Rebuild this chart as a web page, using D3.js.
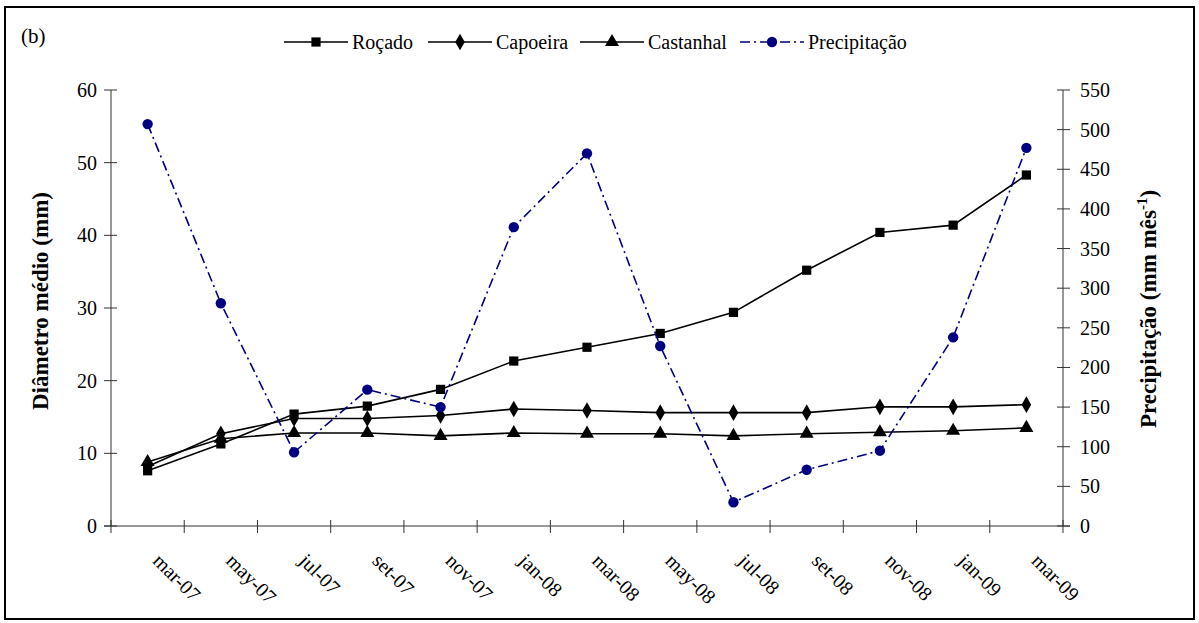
<!DOCTYPE html>
<html>
<head>
<meta charset="utf-8">
<script src="https://cdn.jsdelivr.net/npm/d3@7"></script>
<style>
  body { margin: 0; background: #fff; }
</style>
</head>
<body>
<div id="chart"></div>
<script>
// Data
var months = ["mar-07", "may-07", "jul-07", "set-07", "nov-07", "jan-08", "mar-08",
              "may-08", "jul-08", "set-08", "nov-08", "jan-09", "mar-09"];
var rocado    = [7.6, 11.3, 15.4, 16.5, 18.8, 22.7, 24.6, 26.5, 29.4, 35.2, 40.4, 41.4, 48.3];
var capoeira  = [8.2, 12.7, 14.8, 14.8, 15.2, 16.1, 15.9, 15.6, 15.6, 15.6, 16.4, 16.4, 16.7];
var castanhal = [8.8, 12.0, 12.8, 12.8, 12.4, 12.8, 12.7, 12.7, 12.4, 12.7, 12.9, 13.1, 13.5];
var precip    = [507, 281, 93, 172, 150, 377, 470, 227, 30, 71, 95, 238, 477];
var leftTicks = [0, 10, 20, 30, 40, 50, 60];
var rightTicks = [0, 50, 100, 150, 200, 250, 300, 350, 400, 450, 500, 550];

var W = 1199, H = 623;
var plot = {left: 111, right: 1063, top: 90, bottom: 526};
var serif = "'Liberation Serif', 'Times New Roman', Times, serif";

var svg = d3.select("#chart").append("svg")
    .attr("width", W)
    .attr("height", H)
    .style("font-family", serif);

// outer frame
svg.append("rect")
    .attr("x", 5).attr("y", 7)
    .attr("width", 1189).attr("height", 612)
    .attr("fill", "none")
    .attr("stroke", "#000")
    .attr("stroke-width", 2);

svg.append("text")
    .attr("x", 21).attr("y", 43)
    .style("font-size", "21px")
    .text("(b)");

var x = d3.scaleBand().domain(months).range([plot.left, plot.right]);
var yL = d3.scaleLinear().domain([0, 60]).range([plot.bottom, plot.top]);
var yR = d3.scaleLinear().domain([0, 550]).range([plot.bottom, plot.top]);
var cx = d => x(d) + x.bandwidth() / 2;

var axisColor = "#333";

// left axis
var gL = svg.append("g");
gL.append("line")
    .attr("x1", plot.left).attr("x2", plot.left)
    .attr("y1", plot.top).attr("y2", plot.bottom)
    .attr("stroke", axisColor);
gL.selectAll(".t").data(leftTicks).enter().append("line")
    .attr("x1", plot.left - 7).attr("x2", plot.left + 6)
    .attr("y1", d => yL(d)).attr("y2", d => yL(d))
    .attr("stroke", axisColor);
gL.selectAll("text").data(leftTicks).enter().append("text")
    .attr("x", plot.left - 14)
    .attr("y", d => yL(d))
    .attr("dy", "0.35em")
    .attr("text-anchor", "end")
    .style("font-size", "20px")
    .text(d => d);

// right axis
var gR = svg.append("g");
gR.append("line")
    .attr("x1", plot.right).attr("x2", plot.right)
    .attr("y1", plot.top).attr("y2", plot.bottom)
    .attr("stroke", axisColor);
gR.selectAll(".t").data(rightTicks).enter().append("line")
    .attr("x1", plot.right - 6).attr("x2", plot.right + 7)
    .attr("y1", d => yR(d)).attr("y2", d => yR(d))
    .attr("stroke", axisColor);
gR.selectAll("text").data(rightTicks).enter().append("text")
    .attr("x", plot.right + 17)
    .attr("y", d => yR(d))
    .attr("dy", "0.35em")
    .attr("text-anchor", "start")
    .style("font-size", "20px")
    .text(d => d);

// bottom axis
var gB = svg.append("g");
gB.append("line")
    .attr("x1", plot.left - 7).attr("x2", plot.right + 7)
    .attr("y1", plot.bottom).attr("y2", plot.bottom)
    .attr("stroke", axisColor);
var edges = months.map(d => x(d)).concat([plot.right]);
gB.selectAll(".t").data(edges).enter().append("line")
    .attr("x1", d => d).attr("x2", d => d)
    .attr("y1", plot.bottom - 6).attr("y2", plot.bottom + 7)
    .attr("stroke", axisColor);
gB.selectAll("text").data(months).enter().append("text")
    .attr("transform", d => "translate(" + (cx(d) + 9) + "," + (plot.bottom + 31) + ") rotate(45)")
    .attr("dy", "0.35em")
    .attr("text-anchor", "start")
    .style("font-size", "20px")
    .text(d => d);

// axis titles
svg.append("text")
    .attr("transform", "translate(48,301) rotate(-90)")
    .attr("text-anchor", "middle")
    .style("font-size", "23px")
    .style("font-weight", "bold")
    .text("Diâmetro médio (mm)");

var tR = svg.append("text")
    .attr("transform", "translate(1156,309) rotate(-90)")
    .attr("text-anchor", "middle")
    .style("font-size", "23px")
    .style("font-weight", "bold");
tR.append("tspan").text("Precipitação (mm mês");
tR.append("tspan").attr("dy", "-9").style("font-size", "15px").text("-1");
tR.append("tspan").attr("dy", "9").text(")");

// series
var series = [
  {name: "Roçado", values: rocado, scale: yL, color: "#000", dash: null, symbol: d3.symbolSquare, size: 85},
  {name: "Capoeira", values: capoeira, scale: yL, color: "#000", dash: null, symbol: d3.symbolDiamond, size: 80},
  {name: "Castanhal", values: castanhal, scale: yL, color: "#000", dash: null, symbol: d3.symbolTriangle, size: 85},
  {name: "Precipitação", values: precip, scale: yR, color: "#000080", dash: "10,4,2,4", symbol: d3.symbolCircle, size: 85}
];

series.forEach(function(s) {
    var line = d3.line()
        .x((d, i) => cx(months[i]))
        .y(d => s.scale(d));
    svg.append("path")
        .datum(s.values)
        .attr("d", line)
        .attr("fill", "none")
        .attr("stroke", s.color)
        .attr("stroke-width", 1.6)
        .attr("stroke-dasharray", s.dash);
    svg.append("g").selectAll("path")
        .data(s.values)
      .enter().append("path")
        .attr("transform", (d, i) => "translate(" + cx(months[i]) + "," + s.scale(d) + ")")
        .attr("d", d3.symbol().type(s.symbol).size(s.size))
        .attr("fill", s.color);
});

// legend
var legX = [284, 428, 580, 740];
var leg = svg.append("g");
series.forEach(function(s, i) {
    var g = leg.append("g").attr("transform", "translate(" + legX[i] + ",42)");
    g.append("line")
        .attr("x1", 0).attr("x2", 64)
        .attr("stroke", s.color)
        .attr("stroke-width", 1.6)
        .attr("stroke-dasharray", s.dash);
    g.append("path")
        .attr("transform", "translate(32,0)")
        .attr("d", d3.symbol().type(s.symbol).size(s.size))
        .attr("fill", s.color);
    g.append("text")
        .attr("x", 68)
        .attr("dy", "0.35em")
        .style("font-size", "20px")
        .text(s.name);
});
</script>
</body>
</html>
